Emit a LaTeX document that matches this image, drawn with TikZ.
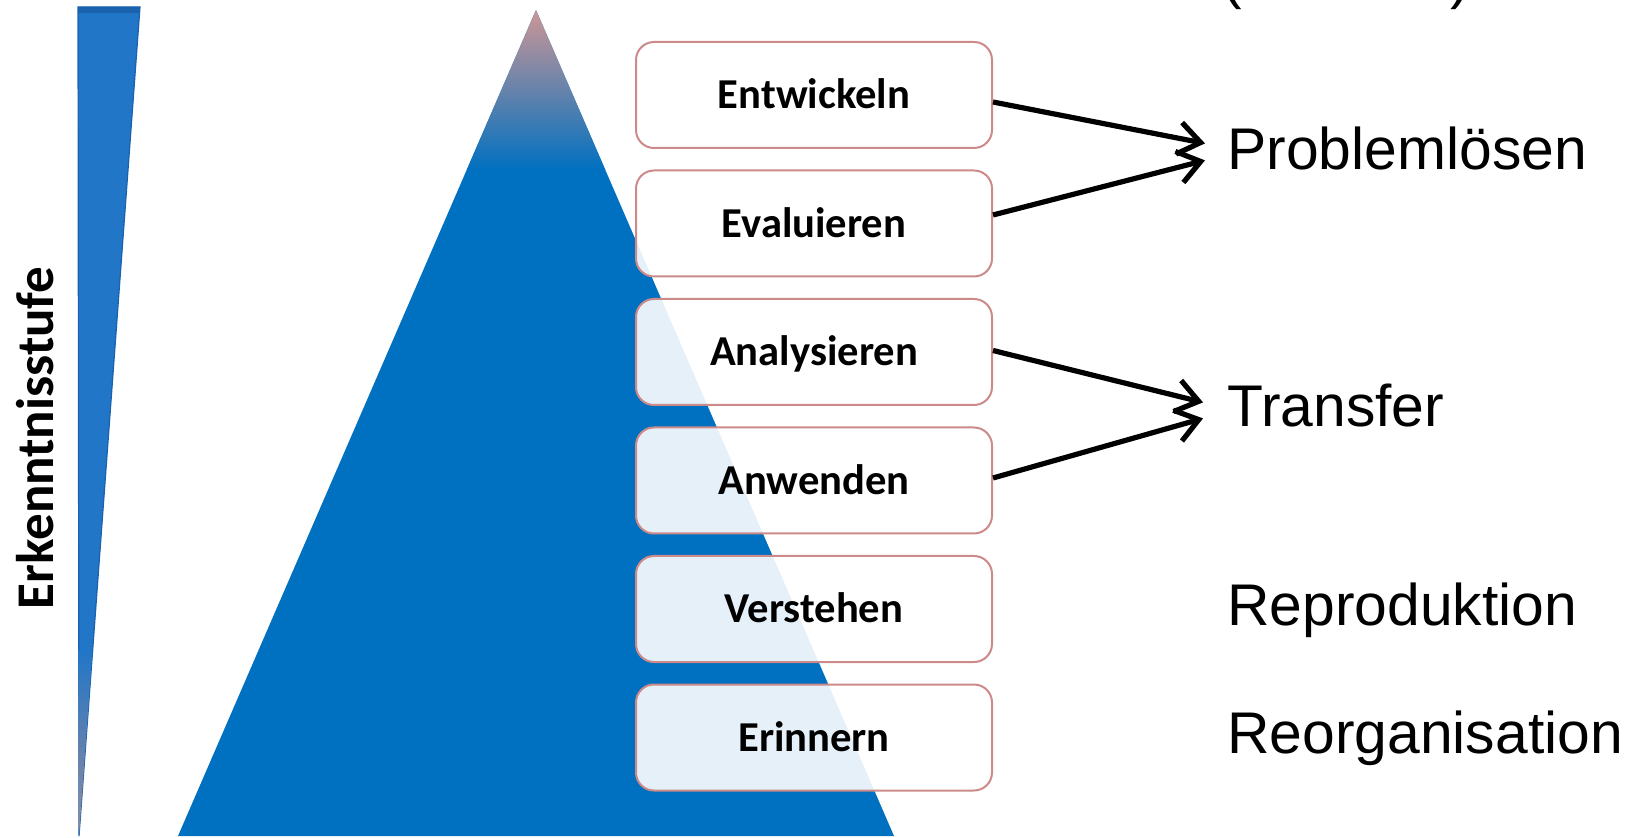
\documentclass[tikz,border=0pt]{standalone}
\usepackage{fontspec}
\setmainfont{Liberation Sans}
\newfontfamily\calibri{Carlito}
\usetikzlibrary{positioning}
\usetikzlibrary{arrows.meta}

\definecolor{stufeblau}{HTML}{0070C0}
\definecolor{spitze}{HTML}{CC9696}
\definecolor{rahmen}{HTML}{CC8A8A}
\definecolor{keilblau}{HTML}{2176C7}
\definecolor{keilrand}{HTML}{1A62AE}
\definecolor{keilspitze}{HTML}{9A8A98}

\begin{document}
\begin{tikzpicture}[x=0.5pt,y=-0.5pt,
  stufe/.style={rectangle,rounded corners=9pt,draw=rahmen,line width=1pt,
    fill=white,fill opacity=0.9,text opacity=1,
    minimum width=178pt,minimum height=53pt,
    font=\calibri\bfseries\fontsize{21.3}{25}\selectfont,text height=13.7pt,text depth=0pt},
  ziel/.style={anchor=base west,inner sep=0pt,
    font=\fontsize{29.4}{33}\selectfont,text height=21pt,text depth=0pt},
  pfeil/.style={line width=2.6pt,-{Straight Barb[length=11pt,width=16pt]}}]
\useasboundingbox (0,0) rectangle (1626,838);
\clip (0,0) rectangle (1626,838);

% Keil links
\fill[keilblau,draw=keilrand,line width=0.6pt] (78,7) -- (140,7) -- (79,836) -- cycle;
\fill[keilrand] (78,7) -- (140,7) -- (139.5,13) -- (78,13) -- cycle;
\shade[top color=keilblau,bottom color=keilspitze] (78.2,650) -- (92.5,650) -- (79,836) -- cycle;
\node[rotate=90,anchor=base,inner sep=0pt,font=\calibri\bfseries\fontsize{26.5}{30}\selectfont]
  (achse) at (54,438) {Erkenntnisstufe};

% Pyramide
\fill[stufeblau] (536,10) -- (894,836) -- (178,836) -- cycle;
\shade[top color=spitze,bottom color=stufeblau] (536,10) -- (605.3,170) -- (466.7,170) -- cycle;

% Stufen
\node[stufe] (ent) at (814,95) {Entwickeln};
\node[stufe,below=10.25pt of ent] (eva) {Evaluieren};
\node[stufe,below=10.25pt of eva] (ana) {Analysieren};
\node[stufe,below=10.25pt of ana] (anw) {Anwenden};
\node[stufe,below=10.25pt of anw] (ver) {Verstehen};
\node[stufe,below=10.25pt of ver] (eri) {Erinnern};

% Ziele rechts
\node[ziel] (klammer) at (1222,-2) {(\hspace{104.5pt})};
\node[ziel] (pl) at (1227,170) {Problemlösen};
\node[ziel] (tr) at (1227,427) {Transfer};
\node[ziel] (rp) at (1227,625) {Reproduktion};
\node[ziel] (ro) at (1227,753) {Reorganisation};

\draw[pfeil] ([yshift=-3.5pt]ent.east) -- ([xshift=-11pt,yshift=2.8pt]pl.west);
\draw[pfeil] ([yshift=4.25pt]eva.east) -- ([xshift=-11pt,yshift=-5.7pt]pl.west);
\draw[pfeil] ([yshift=0.75pt]ana.east) -- ([xshift=-12pt,yshift=1.8pt]tr.west);
\draw[pfeil] ([yshift=1.25pt]anw.east) -- ([xshift=-12pt,yshift=-6.2pt]tr.west);

\end{tikzpicture}
\end{document}
